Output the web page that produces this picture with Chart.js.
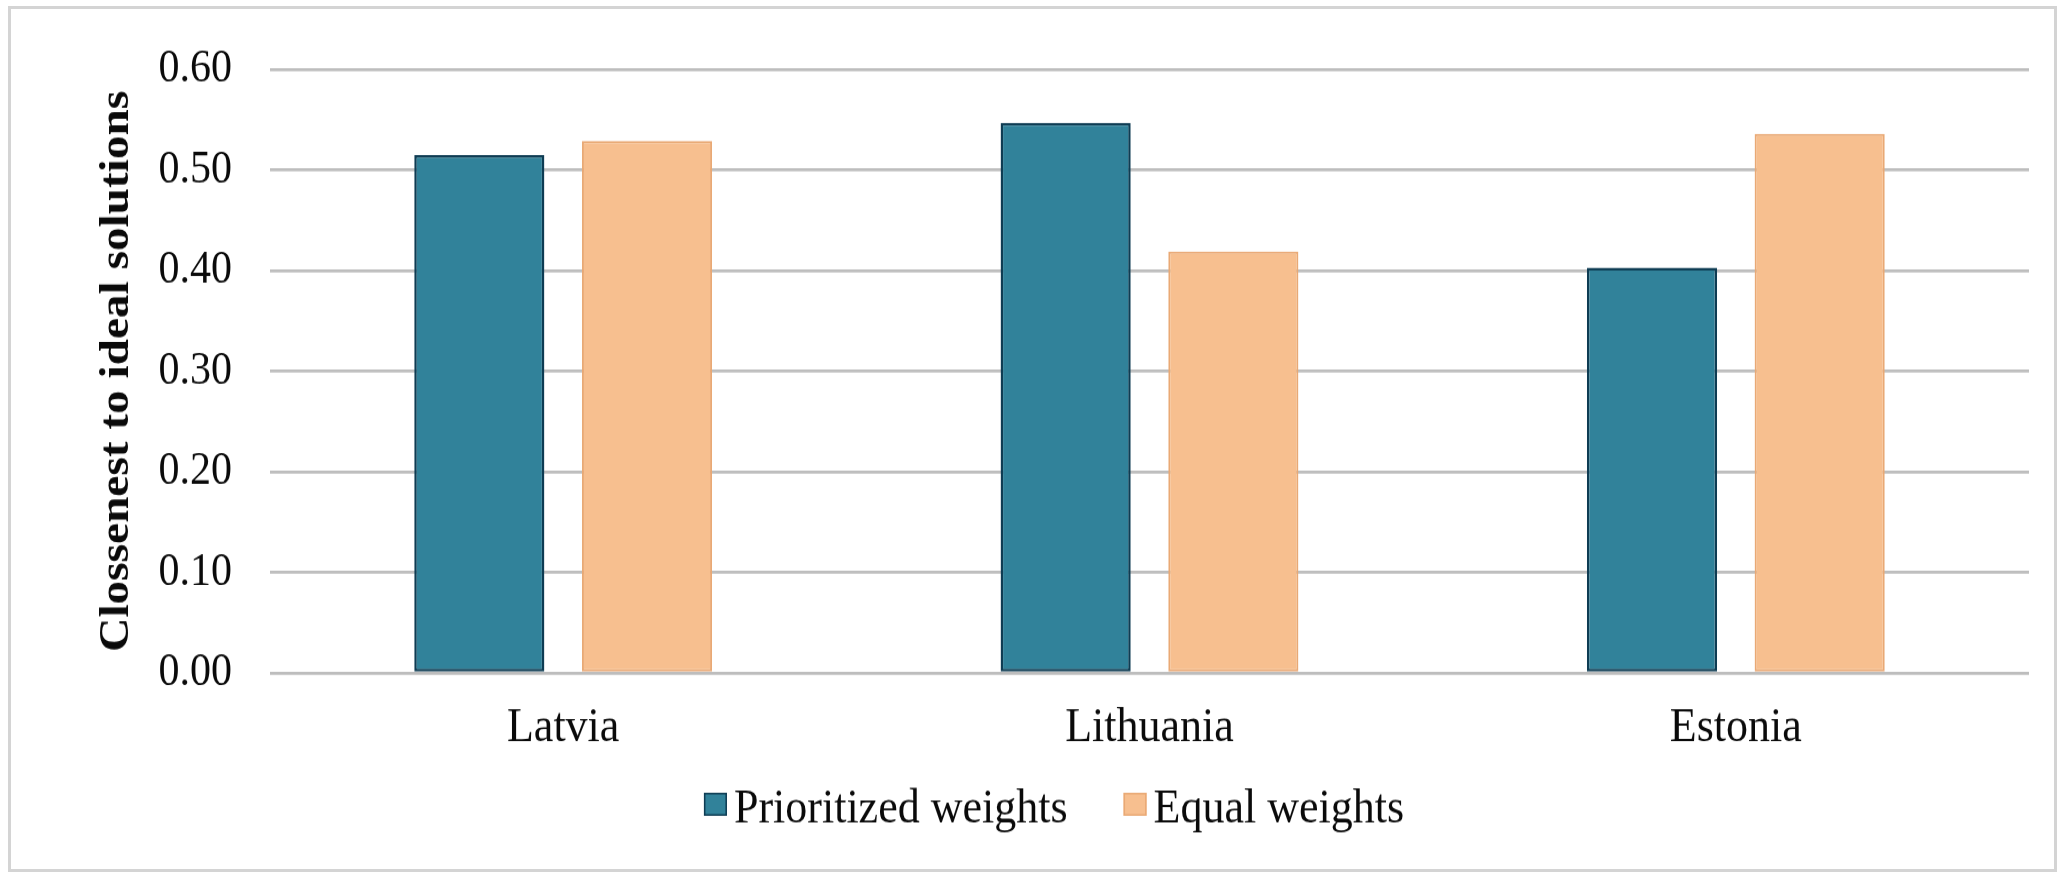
<!DOCTYPE html>
<html>
<head>
<meta charset="utf-8">
<script src="https://cdn.jsdelivr.net/npm/chart.js@4/dist/chart.umd.min.js"></script>
<style>
  html, body { margin: 0; padding: 0; background: #fff; }
  body { width: 2065px; height: 873px; position: relative; overflow: hidden; }
  #frame {
    position: absolute; left: 8px; top: 6px; width: 2049px; height: 866px;
    border: 3px solid #d4d4d4; box-sizing: border-box;
  }
  /* the canvas is drawn slightly short and stretched vertically, giving the tall, narrow type */
  #wrap {
    position: absolute; left: 0; top: 0; width: 2065px; height: 794px;
    transform: scaleY(1.0995); transform-origin: 0 0;
  }
</style>
</head>
<body>
<div id="frame"></div>
<div id="wrap"><canvas id="chart" width="2065" height="794"></canvas></div>
<script>
// Closeness coefficients per country
const categories = ['Latvia', 'Lithuania', 'Estonia'];
const prioritizedWeights = [0.515, 0.547, 0.403];
const equalWeights = [0.529, 0.419, 0.536];
const seriesNames = ['Prioritized weights', 'Equal weights'];
const yTickValues = [0, 0.1, 0.2, 0.3, 0.4, 0.5, 0.6];

const FONT = '"Liberation Serif", "Times New Roman", serif';
const INK = '#0a0a0a';

// Legend drawn below the axis: small square, tight gap, then the name
const bottomLegend = {
  id: 'bottomLegend',
  afterDraw(chart, args, opts) {
    const ctx = chart.ctx;
    const items = chart.data.datasets.map(ds => ({
      text: ds.label, fill: ds.backgroundColor, stroke: ds.borderColor
    }));
    ctx.save();
    ctx.font = `${opts.fontSize}px ${FONT}`;
    const widths = items.map(it => ctx.measureText(it.text).width);
    const total = widths.reduce((a, w) => a + opts.box + opts.gap + w, 0) + opts.itemGap * (items.length - 1);
    let x = opts.centerX - total / 2;
    items.forEach((it, i) => {
      ctx.fillStyle = it.fill;
      ctx.fillRect(x, opts.boxTop, opts.box, opts.boxH);
      ctx.lineWidth = 1.5;
      ctx.strokeStyle = it.stroke;
      ctx.strokeRect(x + 0.75, opts.boxTop + 0.75, opts.box - 1.5, opts.boxH - 1.5);
      ctx.fillStyle = INK;
      ctx.textAlign = 'left';
      ctx.textBaseline = 'alphabetic';
      ctx.fillText(it.text, x + opts.box + opts.gap, opts.baseline);
      x += opts.box + opts.gap + widths[i] + opts.itemGap;
    });
    ctx.restore();
  }
};

new Chart(document.getElementById('chart'), {
  type: 'bar',
  data: {
    labels: categories,
    datasets: [
      {
        label: seriesNames[0],
        data: prioritizedWeights,
        backgroundColor: '#31829a',
        borderColor: '#0e3c53',
        borderWidth: 2.5,
        borderSkipped: false,
        categoryPercentage: 0.572,
        barPercentage: 0.776
      },
      {
        label: seriesNames[1],
        data: equalWeights,
        backgroundColor: '#f7bf8f',
        borderColor: '#e9a975',
        borderWidth: 2,
        borderSkipped: false,
        categoryPercentage: 0.572,
        barPercentage: 0.776
      }
    ]
  },
  options: {
    responsive: false,
    devicePixelRatio: 1,
    animation: false,
    layout: { padding: { top: 55, right: 36, left: 0, bottom: 0 } },
    plugins: {
      legend: { display: false },
      tooltip: { enabled: false },
      bottomLegend: {
        fontSize: 44, box: 23, boxH: 21, gap: 7, itemGap: 56,
        centerX: 1054, boxTop: 721, baseline: 747.5
      }
    },
    scales: {
      x: {
        grid: { display: false, drawTicks: false },
        border: { display: false },
        ticks: { color: INK, padding: 24, font: { family: FONT, size: 44 } },
        afterFit(scale) { scale.height = 182; }
      },
      y: {
        min: 0,
        max: 0.6,
        afterBuildTicks(scale) { scale.ticks = yTickValues.map(v => ({ value: v })); },
        grid: { color: '#bdbdbd', lineWidth: 2.7, drawTicks: false },
        border: { display: false },
        ticks: {
          color: INK, padding: 38,
          font: { family: FONT, size: 42 },
          callback: v => Number(v).toFixed(2)
        },
        title: {
          display: true,
          text: 'Clossenest to ideal solutions',
          color: INK,
          font: { family: FONT, size: 43, weight: 'bold' },
          padding: { top: 91, bottom: 0 }
        },
        afterFit(scale) { scale.width = 270; }
      }
    }
  },
  plugins: [bottomLegend]
});
</script>
</body>
</html>
